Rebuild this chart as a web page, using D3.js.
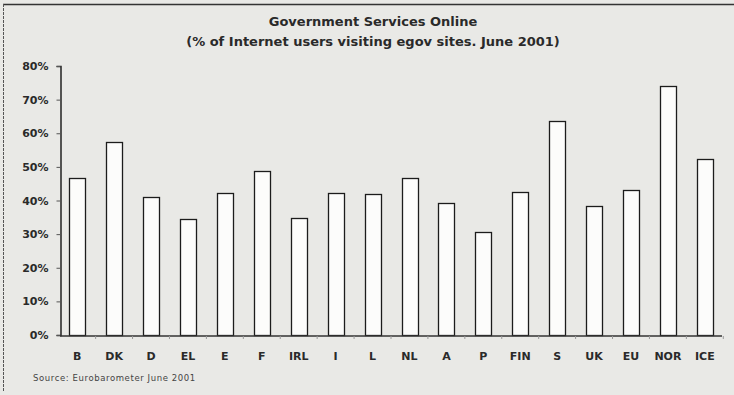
<!DOCTYPE html>
<html>
<head>
<meta charset="utf-8">
<script src="https://cdn.jsdelivr.net/npm/d3@7"></script>
<style>
  body { margin: 0; background: #e9e9e6; }
  svg { display: block; font-family: "DejaVu Sans", Verdana, sans-serif; }
</style>
</head>
<body>
<div id="chart"></div>
<script>
// chart data
let countries = ["B", "DK", "D", "EL", "E", "F", "IRL", "I", "L", "NL", "A", "P", "FIN", "S", "UK", "EU", "NOR", "ICE"];
let visitShare = [46.7, 57.5, 40.9, 34.4, 42.1, 48.8, 34.8, 42.1, 42.0, 46.6, 39.2, 30.6, 42.4, 63.6, 38.5, 43.0, 74.1, 52.4];
let yTicks = [0, 10, 20, 30, 40, 50, 60, 70, 80];

let svgWidth = 734;
let svgHeight = 395;
let font = "'DejaVu Sans', Verdana, sans-serif";

let svg = d3.select("#chart")
  .append("svg")
  .attr("width", svgWidth)
  .attr("height", svgHeight);

// page frame
svg.append("rect")
  .attr("width", svgWidth).attr("height", svgHeight)
  .attr("fill", "#e9e9e6");
svg.append("line")
  .attr("x1", 3).attr("x2", svgWidth).attr("y1", 4.5).attr("y2", 4.5)
  .attr("stroke", "#333").attr("stroke-width", 1.5);
svg.append("line")
  .attr("x1", 3.5).attr("x2", 3.5).attr("y1", 4).attr("y2", 392)
  .attr("stroke", "#555").attr("stroke-width", 1)
  .attr("stroke-dasharray", "3,1");

// titles
svg.append("text")
  .attr("x", 373).attr("y", 26)
  .attr("text-anchor", "middle")
  .attr("font-size", 13).attr("font-weight", "bold").attr("fill", "#2a2a2a")
  .text("Government Services Online");
svg.append("text")
  .attr("x", 373).attr("y", 46)
  .attr("text-anchor", "middle")
  .attr("font-size", 13).attr("font-weight", "bold").attr("fill", "#2a2a2a")
  .text("(% of Internet users visiting egov sites. June 2001)");

// scales
let xScale = d3.scaleBand()
  .domain(countries)
  .range([60, 722])
  .paddingInner(0.57)
  .paddingOuter(0.25);

let yScale = d3.scaleLinear()
  .domain([0, 80])
  .range([335, 66]);

// y axis
let yAxis = d3.axisLeft(yScale)
  .tickValues(yTicks)
  .tickSize(4)
  .tickPadding(8)
  .tickFormat(d => d + "%");

let yG = svg.append("g")
  .attr("transform", "translate(60.5,0)")
  .call(yAxis);
yG.select(".domain").attr("stroke", "#222").attr("stroke-width", 1.5);
yG.selectAll(".tick line").attr("stroke", "#555");
yG.selectAll("text")
  .attr("font-size", 11).attr("font-weight", "bold").attr("fill", "#2a2a2a")
  .attr("font-family", font);

// bars
svg.selectAll("rect.bar")
  .data(visitShare)
  .enter()
  .append("rect")
  .attr("class", "bar")
  .attr("x", (d, i) => Math.round(xScale(countries[i])) + 0.5)
  .attr("y", d => Math.round(yScale(d)) + 0.5)
  .attr("width", Math.round(xScale.bandwidth()))
  .attr("height", d => 335 - Math.round(yScale(d)))
  .attr("fill", "#fcfcfb")
  .attr("stroke", "#1c1c1c")
  .attr("stroke-width", 1.3);

// x axis
let xAxis = d3.axisBottom(xScale)
  .tickSize(0)
  .tickPadding(17);

let xG = svg.append("g")
  .attr("transform", "translate(0,335.5)")
  .call(xAxis);
xG.select(".domain").attr("stroke", "#333").attr("stroke-width", 1.3)
  .attr("d", "M60,0.5H722");
xG.selectAll("text")
  .attr("font-size", 11).attr("font-weight", "bold").attr("fill", "#2a2a2a")
  .attr("font-family", font);

// small separator ticks between categories
let step = xScale.step();
svg.selectAll("line.sep")
  .data(countries)
  .enter()
  .append("line")
  .attr("class", "sep")
  .attr("x1", d => xScale(d) + xScale.bandwidth() + (step - xScale.bandwidth()) / 2)
  .attr("x2", d => xScale(d) + xScale.bandwidth() + (step - xScale.bandwidth()) / 2)
  .attr("y1", 336).attr("y2", 339)
  .attr("stroke", "#999");

// source
svg.append("text")
  .attr("x", 33).attr("y", 381)
  .attr("font-size", 8.5).attr("fill", "#444")
  .attr("letter-spacing", 0.6)
  .attr("font-family", font)
  .text("Source: Eurobarometer June 2001");
</script>
</body>
</html>
